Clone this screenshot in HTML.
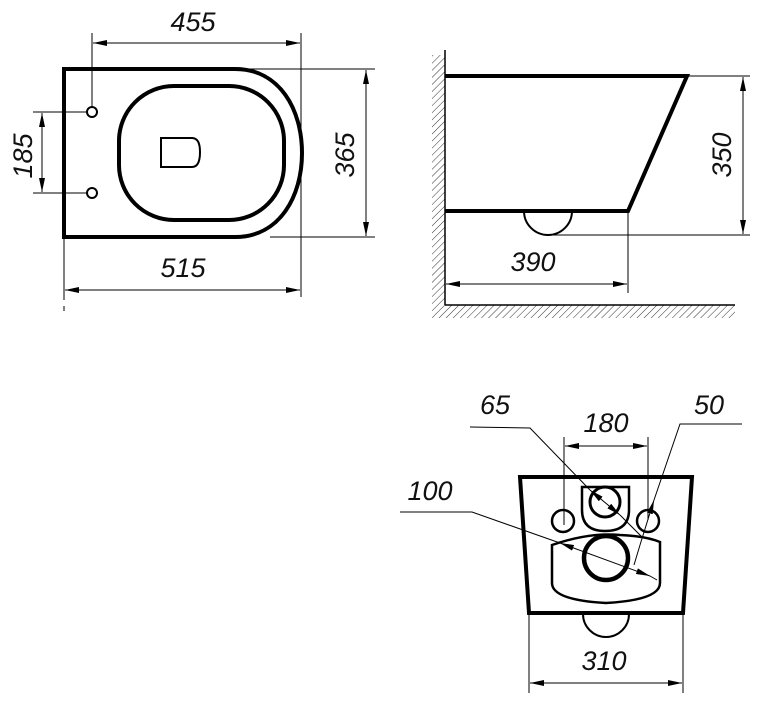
<!DOCTYPE html>
<html><head><meta charset="utf-8"><style>
html,body{margin:0;padding:0;background:#fff;}
svg{display:block;}
text{font-family:"Liberation Sans",sans-serif;font-style:italic;font-size:27px;fill:#111;}
</style></head><body>
<svg width="761" height="705" viewBox="0 0 761 705" xmlns="http://www.w3.org/2000/svg">
<defs>
<marker id="a" viewBox="0 0 14 6" refX="14" refY="3" markerWidth="14" markerHeight="6" markerUnits="userSpaceOnUse" orient="auto-start-reverse"><path d="M0,0 L14,3 L0,6 Z" fill="#000"/></marker>
<pattern id="h" width="5" height="5" patternUnits="userSpaceOnUse" patternTransform="rotate(45)"><line x1="0" y1="0" x2="0" y2="5" stroke="#333" stroke-width="1"/></pattern>
</defs>
<g fill="none" stroke="#000">
<!-- top view -->
<path d="M64 69 H235 C280 69 302 110 302 153 C302 196 280 237 235 237 H64 Z" stroke-width="4"/>
<rect x="119" y="86" width="165" height="134" rx="55" ry="55" stroke-width="4"/>
<path d="M161 138 H192 Q200 138 200 152 Q200 167 192 167 H161 Z" stroke-width="2"/>
<circle cx="92" cy="112" r="5" stroke-width="2"/>
<circle cx="92" cy="193" r="5" stroke-width="2"/>
<g stroke-width="1">
<line x1="92" y1="33" x2="92" y2="106"/><line x1="301" y1="33" x2="301" y2="237"/>
<line x1="93" y1="43" x2="300" y2="43" marker-start="url(#a)" marker-end="url(#a)"/>
<line x1="237" y1="69" x2="375" y2="69"/><line x1="270" y1="237" x2="375" y2="237"/>
<line x1="366" y1="70" x2="366" y2="236" marker-start="url(#a)" marker-end="url(#a)"/>
<line x1="33" y1="112" x2="87" y2="112"/><line x1="33" y1="193" x2="87" y2="193"/>
<line x1="42" y1="113" x2="42" y2="192" marker-start="url(#a)" marker-end="url(#a)"/>
<line x1="64" y1="237" x2="64" y2="300"/><line x1="64" y1="306" x2="64" y2="311"/><line x1="301" y1="237" x2="301" y2="297"/>
<line x1="65" y1="290" x2="300" y2="290" marker-start="url(#a)" marker-end="url(#a)"/>
</g>
<!-- side view -->
<rect x="432" y="55" width="13" height="250" fill="url(#h)" stroke="none"/>
<rect x="432" y="305" width="303" height="13" fill="url(#h)" stroke="none"/>
<line x1="445" y1="50" x2="445" y2="305" stroke-width="1.5"/>
<line x1="445" y1="305" x2="735" y2="305" stroke-width="1.5"/>
<path d="M445 76 H687 L628 211 H445" stroke-width="4"/>
<path d="M524 211 A24 24 0 0 0 572 211" stroke-width="2"/>
<g stroke-width="1">
<line x1="687" y1="76" x2="750" y2="76"/><line x1="548" y1="235" x2="750" y2="235"/>
<line x1="743" y1="77" x2="743" y2="234" marker-start="url(#a)" marker-end="url(#a)"/>
<line x1="628" y1="211" x2="628" y2="293"/>
<line x1="446" y1="284" x2="627" y2="284" marker-start="url(#a)" marker-end="url(#a)"/>
</g>
<!-- front view -->
<path d="M520 477 H692 L683 613 H529 Z" stroke-width="4"/>
<path d="M582 487 H629 V510 Q629 531 605 531 Q582 531 582 510 Z" stroke-width="2.5"/>
<circle cx="605" cy="502" r="15" stroke-width="3"/>
<circle cx="563" cy="521" r="11" stroke-width="2.5"/>
<circle cx="648" cy="521" r="11" stroke-width="2.5"/>
<path d="M552 545 Q590 532 620 535 Q645 536 660 542 V583 Q660 600 606 603 Q552 600 552 583 Z" stroke-width="2.5"/>
<circle cx="606" cy="558" r="22" stroke-width="4.5"/>
<path d="M583 614 A23 23 0 0 0 629 614" stroke-width="2"/>
<g stroke-width="1">
<line x1="564" y1="437" x2="564" y2="525"/><line x1="648" y1="437" x2="648" y2="520"/>
<line x1="565" y1="446" x2="647" y2="446" marker-start="url(#a)" marker-end="url(#a)"/>
<line x1="529" y1="613" x2="529" y2="693"/><line x1="683" y1="613" x2="683" y2="693"/>
<line x1="530" y1="683" x2="682" y2="683" marker-start="url(#a)" marker-end="url(#a)"/>
<polyline points="470,427 530,428 590,490"/>
<line x1="590" y1="490" x2="620" y2="515" marker-start="url(#a)" marker-end="url(#a)"/>
<line x1="620" y1="515" x2="642" y2="537"/>
<polyline points="742,424 680,424 654,500"/>
<line x1="654" y1="500" x2="640" y2="545" marker-start="url(#a)"/>
<line x1="640" y1="545" x2="634" y2="565"/>
<polyline points="400,512 472,512 560,543"/>
<line x1="560" y1="543" x2="650" y2="576" marker-start="url(#a)" marker-end="url(#a)"/>
<line x1="650" y1="576" x2="657" y2="580"/>
</g>
</g>
<text x="193" y="31" text-anchor="middle">455</text>
<text x="183" y="277" text-anchor="middle">515</text>
<text transform="translate(354,155) rotate(-90)" text-anchor="middle">365</text>
<text transform="translate(32,156) rotate(-90)" text-anchor="middle">185</text>
<text transform="translate(731,155) rotate(-90)" text-anchor="middle">350</text>
<text x="533" y="271" text-anchor="middle">390</text>
<text x="495" y="414" text-anchor="middle">65</text>
<text x="606" y="432" text-anchor="middle">180</text>
<text x="709" y="414" text-anchor="middle">50</text>
<text x="430" y="500" text-anchor="middle">100</text>
<text x="604" y="670" text-anchor="middle">310</text>
</svg>
</body></html>
